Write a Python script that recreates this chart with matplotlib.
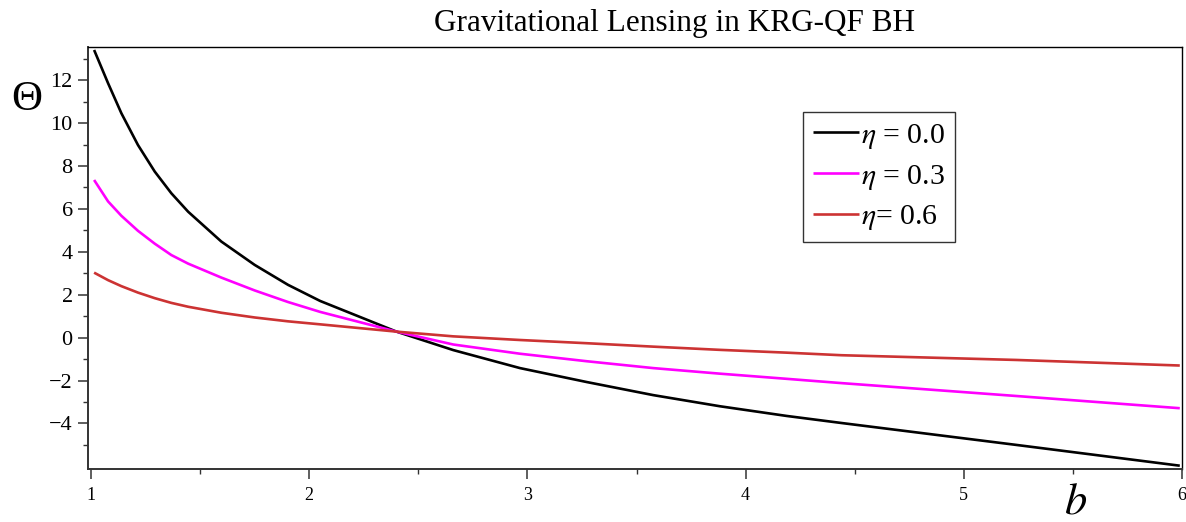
import matplotlib.pyplot as plt
import matplotlib.ticker as mticker

plt.rcParams['font.family'] = ['Liberation Serif', 'DejaVu Serif']
plt.rcParams['mathtext.fontset'] = 'stix'

# impact parameter b and deflection angle for each eta
b = [1.014, 1.078, 1.139, 1.215, 1.292, 1.368, 1.445, 1.597, 1.75, 1.903,
     2.05, 2.40, 2.66, 2.966, 3.272, 3.577, 3.883, 4.188, 4.44, 5.24, 5.99]
theta_00 = [13.41, 11.86, 10.46, 8.98, 7.74, 6.73, 5.87, 4.48, 3.39, 2.46,
            1.71, 0.28, -0.58, -1.42, -2.07, -2.68, -3.20, -3.65, -3.98,
            -5.00, -5.97]
theta_03 = [7.35, 6.35, 5.68, 4.98, 4.38, 3.85, 3.45, 2.80, 2.20, 1.66,
            1.20, 0.28, -0.32, -0.75, -1.10, -1.42, -1.68, -1.92, -2.12,
            -2.72, -3.29]
theta_06 = [3.03, 2.68, 2.40, 2.10, 1.84, 1.62, 1.44, 1.16, 0.94, 0.76,
            0.62, 0.28, 0.06, -0.11, -0.26, -0.42, -0.57, -0.70, -0.82,
            -1.04, -1.30]

labels = [r'$\eta$ = 0.0', r'$\eta$ = 0.3', r'$\eta$= 0.6']
colors = ['black', '#ff00ff', '#cc3333']

fig = plt.figure(figsize=(11.86, 5.22), dpi=100)
ax = fig.add_axes([0.0742, 0.1021, 0.9224, 0.8079])

for th, lab, c in zip([theta_00, theta_03, theta_06], labels, colors):
    ax.plot(b, th, color=c, linewidth=1.9, label=lab, solid_capstyle='butt')

ax.set_xlim(0.986, 6.0)
ax.set_ylim(-6.11, 13.55)

ax.xaxis.set_major_locator(mticker.MultipleLocator(1))
ax.xaxis.set_minor_locator(mticker.MultipleLocator(0.5))
ax.yaxis.set_major_locator(mticker.FixedLocator(range(-4, 14, 2)))
ax.yaxis.set_minor_locator(mticker.FixedLocator(range(-5, 14, 2)))
ax.xaxis.set_major_formatter(mticker.FuncFormatter(lambda v, p: '%d' % v))
ax.yaxis.set_major_formatter(mticker.FuncFormatter(
    lambda v, p: ('\u2212%d' % -v) if v < 0 else '%d' % v))

ax.tick_params(which='major', direction='out', length=7, width=1.1, color='#333333')
ax.tick_params(which='minor', direction='out', length=3.6, width=1.0, color='#333333')
ax.tick_params(axis='y', labelsize=16, pad=4)
ax.tick_params(axis='x', labelsize=13, pad=6)

for side in ['left', 'bottom']:
    ax.spines[side].set_linewidth(1.4)
    ax.spines[side].set_color('#333333')
for side in ['top', 'right']:
    ax.spines[side].set_linewidth(1.0)
    ax.spines[side].set_color('black')

fig.text(675 / 1186, 1 - 24 / 522, 'Gravitational Lensing in KRG-QF BH',
         fontsize=22.5, ha='center', va='center')
fig.text(27 / 1186, 1 - 100 / 522, '\u0398', fontsize=31, ha='center', va='center')
fig.text(1076 / 1186, 1 - 502 / 522, '$b$', fontsize=32, ha='center', va='center')

leg = ax.legend(loc='upper left', bbox_to_anchor=(803 / 1186, 1 - 112 / 522),
                bbox_transform=fig.transFigure, fontsize=21.5, handlelength=1.55,
                handletextpad=0.08, labelspacing=0.4, borderpad=0.32,
                borderaxespad=0, fancybox=False, framealpha=1)
leg.get_frame().set_edgecolor('#333333')
leg.get_frame().set_linewidth(1.0)

plt.savefig('out.png', dpi=100)
